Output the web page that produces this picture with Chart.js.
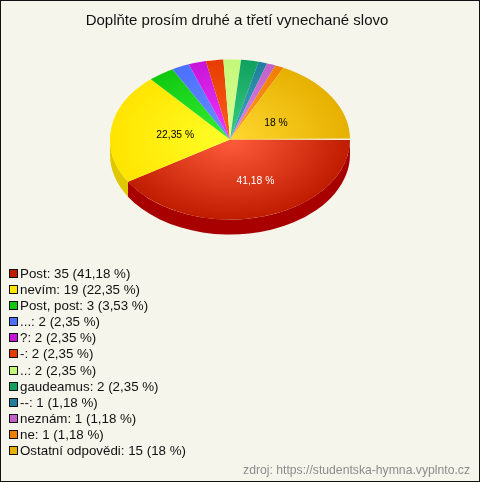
<!DOCTYPE html>
<html lang="cs">
<head>
<meta charset="utf-8">
<title>Doplňte prosím druhé a třetí vynechané slovo</title>
<script src="https://cdn.jsdelivr.net/npm/chart.js@4/dist/chart.umd.min.js"></script>
<style>
    html, body { margin: 0; padding: 0; background: #f5f5ec; }
    #box { position: relative; width: 480px; height: 482px; box-sizing: border-box; border: 1px solid #111; overflow: hidden; font-family: "Liberation Sans", Arial, sans-serif; }
    #pieChart { position: absolute; left: -1px; top: -1px; }
    #legend { position: absolute; left: 8px; top: 265px; margin: 0; padding: 0; list-style: none; font-size: 13.33px; line-height: 16.1px; color: #111; }
    #legend li { height: 16.1px; white-space: nowrap; }
    #legend i { display: inline-block; box-sizing: border-box; width: 9px; height: 9px; border: 1px solid #111; margin-right: 2px; vertical-align: 0; }
    #source { position: absolute; right: 9px; top: 462px; font-size: 12.2px; line-height: 14px; color: #8c8c8c; }
</style>
</head>
<body>
<div id="box">
    <canvas id="pieChart" width="480" height="482"></canvas>
    <ul id="legend"></ul>
    <div id="source"></div>
</div>
<script>
const chartTitle = "Doplňte prosím druhé a třetí vynechané slovo";
const sourceText = "zdroj: https://studentska-hymna.vyplnto.cz";

const categories = ["Post", "nevím", "Post, post", "...", "?", "-", "..", "gaudeamus", "--", "neznám", "ne", "Ostatní odpovědi"];
const counts = [35, 19, 3, 2, 2, 2, 2, 2, 1, 1, 1, 15];
const percents = ["41,18 %", "22,35 %", "3,53 %", "2,35 %", "2,35 %", "2,35 %", "2,35 %", "2,35 %", "1,18 %", "1,18 %", "1,18 %", "18 %"];

const edgeColors = ["#c01c00", "#ffe400", "#10c810", "#4a70ff", "#c814d8", "#e63c00", "#c4f878", "#10a060", "#1f7f9c", "#c060c8", "#f07c00", "#e6b000"];
const centerColors = ["#ff5c3c", "#ffff28", "#34f034", "#6a90ff", "#f038ff", "#ff6020", "#dcff98", "#38d080", "#40a8c4", "#e088e8", "#ffa030", "#ffd830"];
const sideColors = ["#a80000", "#e0c800"];

// ellipse of the pie on the page
const pieX = 230;
const pieY = 139.5;
const pieRadius = 120;
const squash = 0.667;
const depth = 15;
const labelRadius = 0.47;
const labelNudge = { 0: [10, 5], 1: [1, 1], 11: [-2, 3] };

function intoPie(ctx, arc) {
    ctx.translate(pieX, pieY);
    ctx.scale(1, squash);
    ctx.translate(-arc.x, -arc.y);
}

const pie3d = {
    id: "pie3d",
    beforeDatasetsDraw(chart) {
        let ctx = chart.ctx;
        let arcs = chart.getDatasetMeta(0).data;
        // walls of the pie, only the front half can be seen
        arcs.forEach((arc, i) => {
            let from = Math.max(arc.startAngle, 0);
            let to = Math.min(arc.endAngle, Math.PI);
            let color = sideColors[i];
            if (!color || from >= to) return;
            ctx.save();
            intoPie(ctx, arc);
            ctx.beginPath();
            ctx.arc(arc.x, arc.y, arc.outerRadius, from, to);
            ctx.arc(arc.x, arc.y + depth / squash, arc.outerRadius, to, from, true);
            ctx.closePath();
            ctx.fillStyle = color;
            ctx.fill();
            ctx.restore();
        });
        ctx.save();
        intoPie(ctx, arcs[0]);
    },
    afterDatasetsDraw(chart) {
        let ctx = chart.ctx;
        ctx.restore();
        let arcs = chart.getDatasetMeta(0).data;
        let radius = arcs[0].outerRadius;

        // thin light seam above the big slice
        let seam = ctx.createLinearGradient(pieX + 20, 0, pieX + radius, 0);
        seam.addColorStop(0, "rgba(245,245,236,0)");
        seam.addColorStop(1, "rgba(245,245,236,1)");
        ctx.fillStyle = seam;
        ctx.fillRect(pieX + 20, pieY - 1, radius - 20, 1.5);

        ctx.font = "10.3px 'Liberation Sans', Arial, sans-serif";
        ctx.textAlign = "center";
        ctx.textBaseline = "middle";
        arcs.forEach((arc, i) => {
            if (counts[i] < 15) return;
            let mid = (arc.startAngle + arc.endAngle) / 2;
            let r = radius * labelRadius;
            let nudge = labelNudge[i] || [0, 0];
            let x = pieX + Math.cos(mid) * r + nudge[0];
            let y = pieY + Math.sin(mid) * r * squash + nudge[1];
            ctx.fillStyle = i == 0 ? "#ffffff" : "#000000";
            ctx.fillText(percents[i], x, y);
        });
    }
};

function sliceColor(context) {
    let i = context.dataIndex;
    let chart = context.chart;
    let area = chart.chartArea;
    if (!area) return edgeColors[i];
    let x = (area.left + area.right) / 2;
    let y = (area.top + area.bottom) / 2;
    let g = chart.ctx.createRadialGradient(x, y, 0, x, y, pieRadius);
    g.addColorStop(0, centerColors[i]);
    g.addColorStop(1, edgeColors[i]);
    return g;
}

new Chart(document.getElementById("pieChart").getContext("2d"), {
    type: "pie",
    data: {
        labels: categories,
        datasets: [{
            data: counts,
            backgroundColor: sliceColor,
            borderWidth: 0,
            radius: pieRadius
        }]
    },
    options: {
        responsive: false,
        animation: false,
        rotation: 90,
        layout: {
            padding: { left: 0, right: 6, top: 0, bottom: 10 }
        },
        plugins: {
            legend: { display: false },
            tooltip: { enabled: false },
            title: {
                display: true,
                text: chartTitle,
                color: "#111111",
                font: { family: "'Liberation Sans', Arial, sans-serif", size: 15, weight: "normal" },
                padding: { top: 12, bottom: 10 }
            }
        }
    },
    plugins: [pie3d]
});

let legend = document.getElementById("legend");
categories.forEach((name, i) => {
    let row = document.createElement("li");
    let swatch = document.createElement("i");
    swatch.style.background = edgeColors[i];
    row.appendChild(swatch);
    row.appendChild(document.createTextNode(name + ": " + counts[i] + " (" + percents[i] + ")"));
    legend.appendChild(row);
});
document.getElementById("source").textContent = sourceText;
</script>
</body>
</html>
